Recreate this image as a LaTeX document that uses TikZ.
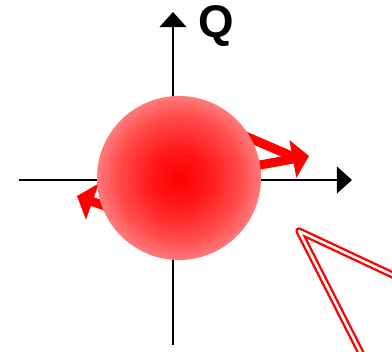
\documentclass[tikz,border=0pt]{standalone}
\usepackage{fontspec}
\setmainfont{Liberation Sans}
\usetikzlibrary{arrows.meta}
\pgfdeclareradialshading{ballshade}{\pgfpoint{0bp}{0bp}}{%
  color(0bp)=(red); color(9bp)=(red!90); color(19bp)=(red!70);
  color(25bp)=(red!52); color(50bp)=(red!52)}

\begin{document}
\begin{tikzpicture}[
      x=0.03cm, y=-0.03cm,
      axis/.style={line width=1.8pt, -{Triangle[width=23pt, length=13pt]}},
      flow/.style={red, line width=7.8pt},
      flowtip/.style={flow, -{Triangle[width=32pt, length=14pt]}},
      beam/.style={red, line width=2pt, double=white, double distance=2.2pt,
                   line join=round},
    ]
    \useasboundingbox (0,0) rectangle (392,351);

    % Axes
    \coordinate (xl) at (19,180);
    \coordinate (xr) at (352,180);
    \coordinate (yb) at (173,345);
    \coordinate (yt) at (173,12);
    \draw[axis] (xl) -- (xr);
    \draw[axis] (yb) -- (yt);
    \node[font=\bfseries\fontsize{39}{39}\selectfont, anchor=base, inner sep=0]
      (qlabel) at (216.5,37.5) {Q};

    % Arrows (start hidden under the ball)
    \coordinate (r1) at (215,123);
    \coordinate (r2) at (200,176);
    \coordinate (rtip) at (309,156);
    \coordinate (rjoin) at (296,158);
    \coordinate (l1) at (130,215);
    \coordinate (ltip) at (77,196);
    \draw[flow] (r1) -- (rjoin);
    \draw[flowtip] (r2) -- (rtip);
    \draw[flowtip] (l1) -- (ltip);

    % Ball
    \node[circle, minimum size=4.92cm, inner sep=0, shading=ballshade]
      (ball) at (179,178) {};

    % Beam wedge
    \coordinate (apex) at (299,231);
    \coordinate (bu) at (396,276.5);
    \coordinate (bl) at (362,355);
    \draw[beam] (bu) -- (apex) -- (bl);
\end{tikzpicture}
\end{document}
